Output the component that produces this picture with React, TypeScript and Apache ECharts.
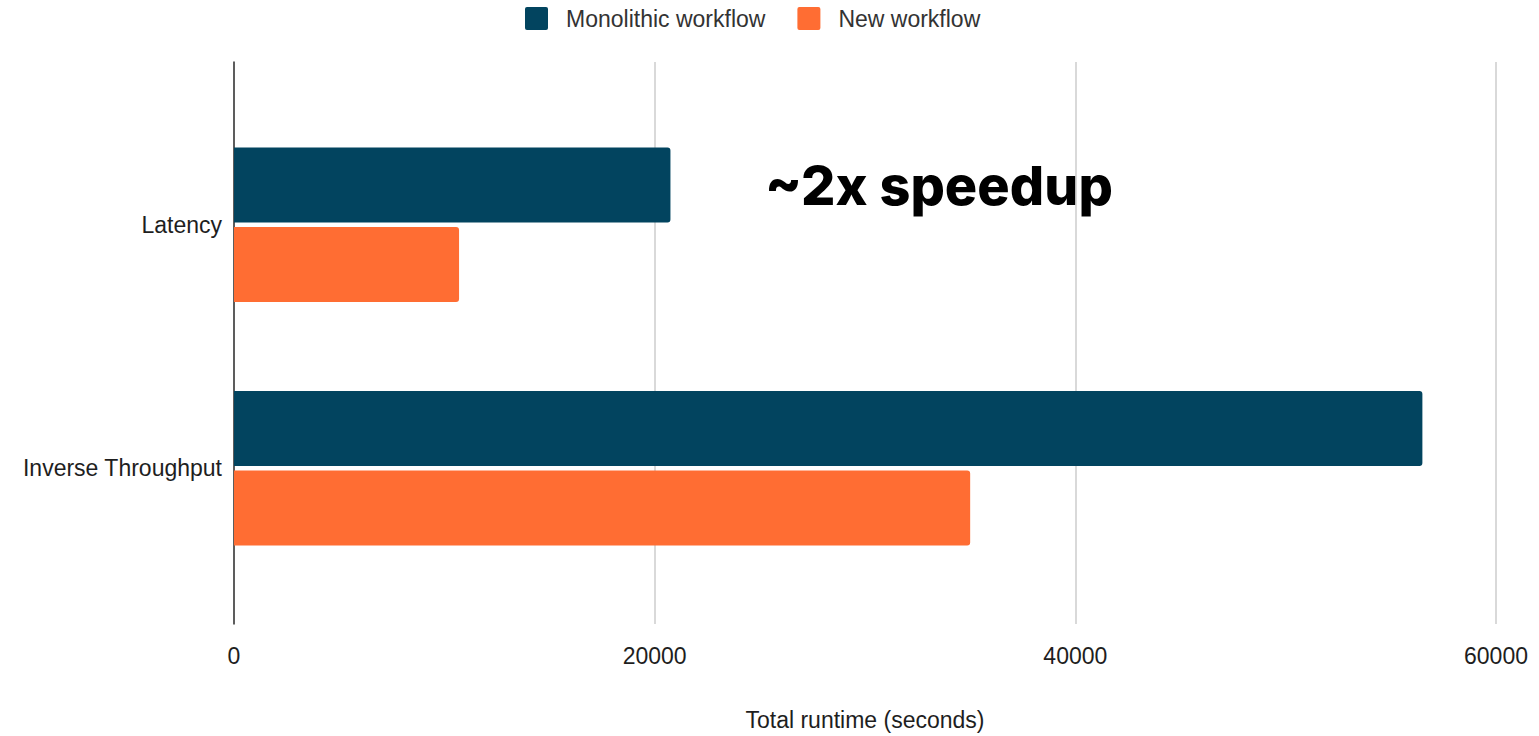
import React, { useEffect, useRef } from "react";
import * as echarts from "echarts";

// Workloads shown on the category axis, top to bottom
const categories = ["Latency", "Inverse Throughput"];

// Total runtime in seconds for each workflow
const monolithicRuntime = [20750, 56500];
const newRuntime = [10700, 35000];

// Runtime axis ticks
const runtimeTicks = [0, 20000, 40000, 60000];

const seriesNames = ["Monolithic workflow", "New workflow"];
const axisTitle = "Total runtime (seconds)";
const callout = "~2x speedup";

const DARK_BLUE = "#02445f";
const ORANGE = "#ff6d33";
const FONT = "'Liberation Sans', Arial, sans-serif";

export default function App() {
  const ref = useRef<HTMLDivElement>(null);

  useEffect(() => {
    if (!ref.current) return;
    const chart = echarts.init(ref.current, undefined, { renderer: "svg" });

    const tickMin = runtimeTicks[0];
    const tickMax = runtimeTicks[runtimeTicks.length - 1];
    const tickStep = runtimeTicks[1] - runtimeTicks[0];

    chart.setOption({
      animation: false,
      backgroundColor: "#ffffff",
      textStyle: { fontFamily: FONT },
      color: [DARK_BLUE, ORANGE],
      legend: {
        left: 520,
        top: 2,
        itemWidth: 23,
        itemHeight: 23,
        itemGap: 32,
        icon: "path://M2,0 L21,0 Q23,0 23,2 L23,21 Q23,23 21,23 L2,23 Q0,23 0,21 L0,2 Q0,0 2,0 Z",
        data: seriesNames,
        textStyle: {
          fontFamily: FONT,
          fontSize: 23,
          color: "#333333",
          padding: [0, 0, 0, 13],
        },
      },
      grid: [
        // frame: grid lines, runtime axis and the vertical axis line
        { left: 234, right: 43, top: 62, bottom: 104, containLabel: false },
        // bars
        { left: 234, right: 43, top: 103, bottom: 146, containLabel: false },
      ],
      xAxis: [
        {
          type: "value",
          gridIndex: 0,
          min: tickMin,
          max: tickMax,
          interval: tickStep,
          axisLine: { show: false },
          axisTick: { show: false },
          splitLine: { show: true, lineStyle: { color: "#cccccc", width: 1.5 } },
          axisLabel: {
            fontFamily: FONT,
            fontSize: 23,
            color: "#1e1e1e",
            margin: 20,
            formatter: (v: number) => String(v),
          },
          name: axisTitle,
          nameLocation: "middle",
          nameGap: 84,
          nameTextStyle: { fontFamily: FONT, fontSize: 23, color: "#1e1e1e" },
        },
        {
          type: "value",
          gridIndex: 1,
          min: tickMin,
          max: tickMax,
          interval: tickStep,
          show: false,
        },
      ],
      yAxis: [
        {
          type: "value",
          gridIndex: 0,
          min: 0,
          max: 1,
          axisLine: { show: true, lineStyle: { color: "#333333", width: 1.5 } },
          axisTick: { show: false },
          axisLabel: { show: false },
          splitLine: { show: false },
        },
        {
          type: "category",
          gridIndex: 1,
          inverse: true,
          data: categories,
          axisLine: { show: false },
          axisTick: { show: false },
          axisLabel: {
            fontFamily: FONT,
            fontSize: 23,
            color: "#1e1e1e",
            margin: 12,
          },
        },
      ],
      series: [
        {
          name: seriesNames[0],
          type: "bar",
          xAxisIndex: 1,
          yAxisIndex: 1,
          data: monolithicRuntime,
          barWidth: 75,
          barGap: "6%",
          itemStyle: { color: DARK_BLUE, borderRadius: [0, 3, 3, 0] },
        },
        {
          name: seriesNames[1],
          type: "bar",
          xAxisIndex: 1,
          yAxisIndex: 1,
          data: newRuntime,
          barWidth: 75,
          barGap: "6%",
          itemStyle: { color: ORANGE, borderRadius: [0, 3, 3, 0] },
        },
      ],
      graphic: [
        {
          type: "text",
          left: 765,
          top: 158,
          style: {
            text: callout,
            fontFamily: "Inter, 'Open Sans', sans-serif",
            fontWeight: 800,
            fontSize: 54,
            fill: "#000000",
          },
        },
      ],
    });

    return () => chart.dispose();
  }, []);

  return (
    <div
      ref={ref}
      style={{ position: "fixed", left: 0, top: 0, width: 1539, height: 736 }}
    />
  );
}
